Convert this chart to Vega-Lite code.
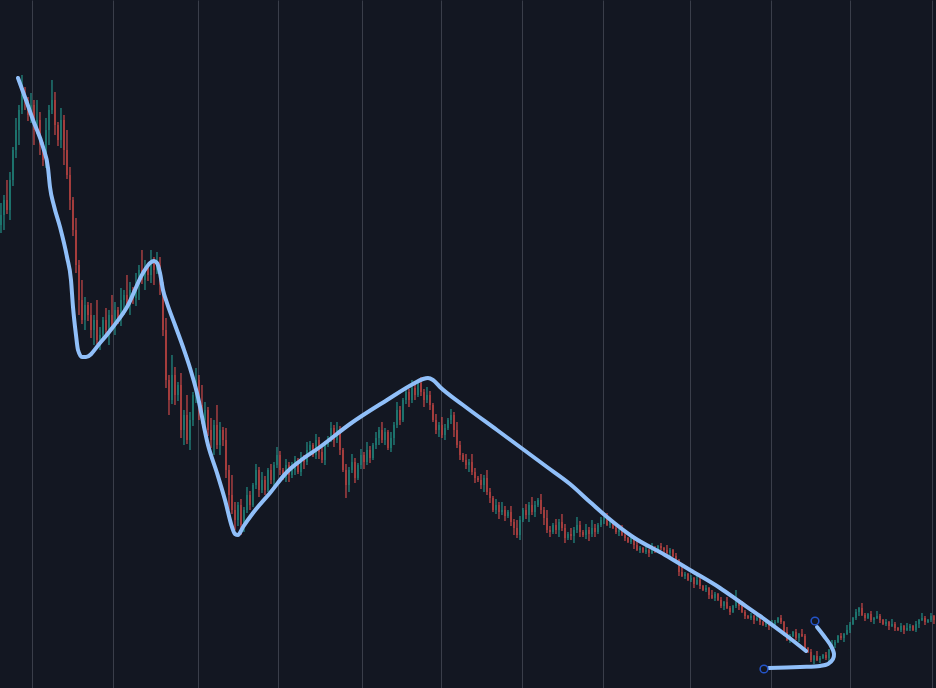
{
"$schema": "https://vega.github.io/schema/vega-lite/v6.json",
"width": 936, "height": 688,
"autosize": {"type": "none"},
"padding": 0,
"background": "#131722",
"config": {"view": {"stroke": null}, "scale": {"continuousPadding": 0}},
"datasets": {
"candles": [
{"i":0,"o":463,"c":473,"h":485,"l":455},{"i":1,"o":473,"c":488,"h":493,"l":458},{"i":2,"o":488,"c":478,"h":508,"l":474},{"i":3,"o":478,"c":508,"h":516,"l":468},{"i":4,"o":508,"c":538,"h":541,"l":502},
{"i":5,"o":538,"c":558,"h":570,"l":530},{"i":6,"o":558,"c":578,"h":583,"l":543},{"i":7,"o":578,"c":593,"h":613,"l":574},{"i":8,"o":593,"c":588,"h":601,"l":578},{"i":9,"o":588,"c":573,"h":591,"l":567},
{"i":10,"o":573,"c":583,"h":595,"l":565},{"i":11,"o":583,"c":558,"h":588,"l":543},{"i":12,"o":558,"c":568,"h":588,"l":554},{"i":13,"o":568,"c":543,"h":576,"l":533},{"i":14,"o":543,"c":528,"h":546,"l":522},
{"i":15,"o":528,"c":558,"h":570,"l":520},{"i":16,"o":558,"c":578,"h":583,"l":543},{"i":17,"o":578,"c":588,"h":608,"l":574},{"i":18,"o":588,"c":563,"h":596,"l":553},{"i":19,"o":563,"c":548,"h":566,"l":542},
{"i":20,"o":548,"c":568,"h":580,"l":540},{"i":21,"o":568,"c":538,"h":573,"l":523},{"i":22,"o":538,"c":513,"h":558,"l":509},{"i":23,"o":513,"c":488,"h":521,"l":478},{"i":24,"o":488,"c":458,"h":491,"l":452},
{"i":25,"o":458,"c":423,"h":470,"l":415},{"i":26,"o":423,"c":388,"h":428,"l":373},{"i":27,"o":388,"c":368,"h":408,"l":364},{"i":28,"o":368,"c":383,"h":391,"l":358},{"i":29,"o":383,"c":373,"h":386,"l":367},
{"i":30,"o":373,"c":358,"h":385,"l":350},{"i":31,"o":358,"c":368,"h":373,"l":343},{"i":32,"o":368,"c":348,"h":388,"l":344},{"i":33,"o":348,"c":353,"h":361,"l":338},{"i":34,"o":353,"c":368,"h":371,"l":347},
{"i":35,"o":368,"c":358,"h":380,"l":350},{"i":36,"o":358,"c":373,"h":378,"l":343},{"i":37,"o":373,"c":363,"h":393,"l":359},{"i":38,"o":363,"c":378,"h":386,"l":353},{"i":39,"o":378,"c":370,"h":381,"l":364},
{"i":40,"o":370,"c":388,"h":400,"l":362},{"i":41,"o":388,"c":393,"h":398,"l":373},{"i":42,"o":393,"c":383,"h":413,"l":379},{"i":43,"o":383,"c":398,"h":406,"l":373},{"i":44,"o":398,"c":390,"h":401,"l":384},
{"i":45,"o":390,"c":403,"h":415,"l":382},{"i":46,"o":403,"c":418,"h":423,"l":388},{"i":47,"o":418,"c":408,"h":438,"l":404},{"i":48,"o":408,"c":420,"h":428,"l":398},{"i":49,"o":420,"c":413,"h":423,"l":407},
{"i":50,"o":413,"c":426,"h":438,"l":405},{"i":51,"o":426,"c":418,"h":431,"l":403},{"i":52,"o":418,"c":423,"h":436,"l":414},{"i":53,"o":423,"c":403,"h":431,"l":393},{"i":54,"o":403,"c":358,"h":406,"l":352},
{"i":55,"o":358,"c":308,"h":370,"l":300},{"i":56,"o":308,"c":288,"h":313,"l":273},{"i":57,"o":288,"c":313,"h":333,"l":284},{"i":58,"o":313,"c":293,"h":321,"l":283},{"i":59,"o":293,"c":303,"h":306,"l":287},
{"i":60,"o":303,"c":258,"h":315,"l":250},{"i":61,"o":258,"c":273,"h":278,"l":243},{"i":62,"o":273,"c":248,"h":293,"l":244},{"i":63,"o":248,"c":268,"h":276,"l":238},{"i":64,"o":268,"c":293,"h":296,"l":262},
{"i":65,"o":293,"c":308,"h":320,"l":285},{"i":66,"o":308,"c":283,"h":313,"l":268},{"i":67,"o":283,"c":268,"h":303,"l":264},{"i":68,"o":268,"c":278,"h":286,"l":258},{"i":69,"o":278,"c":258,"h":281,"l":252},
{"i":70,"o":258,"c":248,"h":270,"l":240},{"i":71,"o":248,"c":263,"h":268,"l":233},{"i":72,"o":263,"c":243,"h":283,"l":239},{"i":73,"o":243,"c":258,"h":266,"l":233},{"i":74,"o":258,"c":248,"h":261,"l":242},
{"i":75,"o":248,"c":218,"h":260,"l":210},{"i":76,"o":218,"c":193,"h":223,"l":178},{"i":77,"o":193,"c":178,"h":213,"l":174},{"i":78,"o":178,"c":168,"h":186,"l":158},{"i":79,"o":168,"c":183,"h":186,"l":162},
{"i":80,"o":183,"c":163,"h":189,"l":153},{"i":81,"o":163,"c":178,"h":181,"l":156},{"i":82,"o":178,"c":193,"h":201,"l":175},{"i":83,"o":193,"c":183,"h":197,"l":178},{"i":84,"o":183,"c":203,"h":205,"l":181},
{"i":85,"o":203,"c":218,"h":224,"l":199},{"i":86,"o":218,"c":198,"h":221,"l":191},{"i":87,"o":198,"c":208,"h":216,"l":195},{"i":88,"o":208,"c":198,"h":212,"l":193},{"i":89,"o":198,"c":218,"h":220,"l":196},
{"i":90,"o":218,"c":208,"h":224,"l":204},{"i":91,"o":208,"c":223,"h":226,"l":201},{"i":92,"o":223,"c":233,"h":241,"l":220},{"i":93,"o":233,"c":218,"h":237,"l":213},{"i":94,"o":218,"c":210,"h":220,"l":208},
{"i":95,"o":210,"c":223,"h":229,"l":206},{"i":96,"o":223,"c":213,"h":226,"l":206},{"i":97,"o":213,"c":218,"h":226,"l":210},{"i":98,"o":218,"c":228,"h":232,"l":213},{"i":99,"o":228,"c":216,"h":230,"l":214},
{"i":100,"o":216,"c":230,"h":236,"l":212},{"i":101,"o":230,"c":226,"h":233,"l":219},{"i":102,"o":226,"c":238,"h":246,"l":223},{"i":103,"o":238,"c":243,"h":247,"l":233},{"i":104,"o":243,"c":233,"h":245,"l":231},
{"i":105,"o":233,"c":248,"h":254,"l":229},{"i":106,"o":248,"c":236,"h":251,"l":229},{"i":107,"o":236,"c":228,"h":244,"l":225},{"i":108,"o":228,"c":243,"h":247,"l":223},{"i":109,"o":243,"c":250,"h":252,"l":241},
{"i":110,"o":250,"c":260,"h":266,"l":246},{"i":111,"o":260,"c":248,"h":263,"l":241},{"i":112,"o":248,"c":258,"h":266,"l":245},{"i":113,"o":258,"c":238,"h":262,"l":233},{"i":114,"o":238,"c":218,"h":240,"l":216},
{"i":115,"o":218,"c":203,"h":224,"l":190},{"i":116,"o":203,"c":218,"h":221,"l":196},{"i":117,"o":218,"c":226,"h":234,"l":215},{"i":118,"o":226,"c":210,"h":230,"l":205},{"i":119,"o":210,"c":223,"h":225,"l":208},
{"i":120,"o":223,"c":233,"h":239,"l":219},{"i":121,"o":233,"c":226,"h":236,"l":219},{"i":122,"o":226,"c":238,"h":246,"l":223},{"i":123,"o":238,"c":230,"h":242,"l":225},{"i":124,"o":230,"c":243,"h":245,"l":228},
{"i":125,"o":243,"c":250,"h":256,"l":239},{"i":126,"o":250,"c":258,"h":261,"l":243},{"i":127,"o":258,"c":248,"h":266,"l":245},{"i":128,"o":248,"c":256,"h":260,"l":243},{"i":129,"o":256,"c":240,"h":258,"l":238},
{"i":130,"o":240,"c":250,"h":256,"l":236},{"i":131,"o":250,"c":263,"h":266,"l":243},{"i":132,"o":263,"c":278,"h":286,"l":260},{"i":133,"o":278,"c":268,"h":282,"l":263},{"i":134,"o":268,"c":288,"h":290,"l":266},
{"i":135,"o":288,"c":296,"h":302,"l":284},{"i":136,"o":296,"c":288,"h":299,"l":281},{"i":137,"o":288,"c":300,"h":308,"l":285},{"i":138,"o":300,"c":293,"h":304,"l":288},{"i":139,"o":293,"c":305,"h":307,"l":291},
{"i":140,"o":305,"c":296,"h":311,"l":292},{"i":141,"o":296,"c":288,"h":299,"l":281},{"i":142,"o":288,"c":293,"h":301,"l":285},{"i":143,"o":293,"c":283,"h":297,"l":278},{"i":144,"o":283,"c":268,"h":285,"l":266},
{"i":145,"o":268,"c":258,"h":274,"l":254},{"i":146,"o":258,"c":263,"h":266,"l":251},{"i":147,"o":263,"c":253,"h":271,"l":250},{"i":148,"o":253,"c":260,"h":264,"l":248},{"i":149,"o":260,"c":268,"h":270,"l":258},
{"i":150,"o":268,"c":273,"h":279,"l":264},{"i":151,"o":273,"c":258,"h":276,"l":251},{"i":152,"o":258,"c":243,"h":266,"l":240},{"i":153,"o":243,"c":233,"h":247,"l":228},{"i":154,"o":233,"c":228,"h":235,"l":226},
{"i":155,"o":228,"c":223,"h":234,"l":219},{"i":156,"o":223,"c":226,"h":229,"l":216},{"i":157,"o":226,"c":216,"h":234,"l":213},{"i":158,"o":216,"c":210,"h":220,"l":205},{"i":159,"o":210,"c":208,"h":212,"l":206},
{"i":160,"o":208,"c":203,"h":214,"l":199},{"i":161,"o":203,"c":210,"h":213,"l":196},{"i":162,"o":210,"c":196,"h":218,"l":193},{"i":163,"o":196,"c":190,"h":200,"l":185},{"i":164,"o":190,"c":178,"h":192,"l":176},
{"i":165,"o":178,"c":183,"h":189,"l":174},{"i":166,"o":183,"c":176,"h":186,"l":169},{"i":167,"o":176,"c":178,"h":186,"l":173},{"i":168,"o":178,"c":172,"h":182,"l":167},{"i":169,"o":172,"c":176,"h":178,"l":170},
{"i":170,"o":176,"c":166,"h":182,"l":162},{"i":171,"o":166,"c":160,"h":169,"l":153},{"i":172,"o":160,"c":153,"h":168,"l":150},{"i":173,"o":153,"c":168,"h":172,"l":148},{"i":174,"o":168,"c":178,"h":180,"l":166},
{"i":175,"o":178,"c":173,"h":184,"l":169},{"i":176,"o":173,"c":183,"h":186,"l":166},{"i":177,"o":183,"c":176,"h":191,"l":173},{"i":178,"o":176,"c":183,"h":187,"l":171},{"i":179,"o":183,"c":188,"h":190,"l":181},
{"i":180,"o":188,"c":178,"h":194,"l":174},{"i":181,"o":178,"c":170,"h":181,"l":163},{"i":182,"o":170,"c":158,"h":178,"l":155},{"i":183,"o":158,"c":156,"h":162,"l":151},{"i":184,"o":156,"c":163,"h":165,"l":154},
{"i":185,"o":163,"c":158,"h":169,"l":154},{"i":186,"o":158,"c":166,"h":169,"l":151},{"i":187,"o":166,"c":160,"h":174,"l":157},{"i":188,"o":160,"c":150,"h":164,"l":145},{"i":189,"o":150,"c":154,"h":156,"l":148},
{"i":190,"o":154,"c":152,"h":160,"l":148},{"i":191,"o":152,"c":158,"h":161,"l":145},{"i":192,"o":158,"c":163,"h":171,"l":155},{"i":193,"o":163,"c":156,"h":167,"l":151},{"i":194,"o":156,"c":153,"h":158,"l":151},
{"i":195,"o":153,"c":158,"h":164,"l":149},{"i":196,"o":158,"c":154,"h":161,"l":147},{"i":197,"o":154,"c":160,"h":168,"l":151},{"i":198,"o":160,"c":156,"h":164,"l":151},{"i":199,"o":156,"c":163,"h":165,"l":154},
{"i":200,"o":163,"c":168,"h":171,"l":161},{"i":201,"o":168,"c":170,"h":171,"l":164},{"i":202,"o":170,"c":163,"h":175,"l":162},{"i":203,"o":163,"c":166,"h":168,"l":160},{"i":204,"o":166,"c":160,"h":167,"l":159},
{"i":205,"o":160,"c":156,"h":163,"l":154},{"i":206,"o":156,"c":158,"h":159,"l":152},{"i":207,"o":158,"c":153,"h":163,"l":152},{"i":208,"o":153,"c":150,"h":155,"l":147},{"i":209,"o":150,"c":146,"h":151,"l":145},
{"i":210,"o":146,"c":150,"h":153,"l":144},{"i":211,"o":150,"c":143,"h":151,"l":139},{"i":212,"o":143,"c":138,"h":148,"l":137},{"i":213,"o":138,"c":140,"h":142,"l":135},{"i":214,"o":140,"c":136,"h":141,"l":135},
{"i":215,"o":136,"c":138,"h":141,"l":134},{"i":216,"o":138,"c":135,"h":139,"l":131},{"i":217,"o":135,"c":140,"h":145,"l":134},{"i":218,"o":140,"c":138,"h":142,"l":135},{"i":219,"o":138,"c":142,"h":143,"l":137},
{"i":220,"o":142,"c":140,"h":145,"l":138},{"i":221,"o":140,"c":138,"h":141,"l":134},{"i":222,"o":138,"c":135,"h":143,"l":134},{"i":223,"o":135,"c":138,"h":140,"l":132},{"i":224,"o":138,"c":132,"h":139,"l":131},
{"i":225,"o":132,"c":128,"h":135,"l":126},{"i":226,"o":128,"c":116,"h":129,"l":112},{"i":227,"o":116,"c":112,"h":121,"l":111},{"i":228,"o":112,"c":114,"h":116,"l":109},{"i":229,"o":114,"c":108,"h":115,"l":107},
{"i":230,"o":108,"c":110,"h":113,"l":106},{"i":231,"o":110,"c":104,"h":111,"l":100},{"i":232,"o":104,"c":108,"h":113,"l":103},{"i":233,"o":108,"c":102,"h":110,"l":99},{"i":234,"o":102,"c":98,"h":103,"l":97},
{"i":235,"o":98,"c":100,"h":103,"l":96},{"i":236,"o":100,"c":93,"h":101,"l":89},{"i":237,"o":93,"c":90,"h":98,"l":89},{"i":238,"o":90,"c":94,"h":96,"l":87},{"i":239,"o":94,"c":88,"h":95,"l":87},
{"i":240,"o":88,"c":82,"h":91,"l":80},{"i":241,"o":82,"c":86,"h":87,"l":78},{"i":242,"o":86,"c":80,"h":91,"l":79},{"i":243,"o":80,"c":76,"h":82,"l":73},{"i":244,"o":76,"c":82,"h":83,"l":75},
{"i":245,"o":82,"c":88,"h":98,"l":80},{"i":246,"o":88,"c":82,"h":89,"l":78},{"i":247,"o":82,"c":76,"h":87,"l":75},{"i":248,"o":76,"c":72,"h":78,"l":69},{"i":249,"o":72,"c":70,"h":73,"l":69},
{"i":250,"o":70,"c":72,"h":75,"l":68},{"i":251,"o":72,"c":68,"h":73,"l":64},{"i":252,"o":68,"c":70,"h":75,"l":67},{"i":253,"o":70,"c":66,"h":72,"l":63},{"i":254,"o":66,"c":63,"h":67,"l":62},
{"i":255,"o":63,"c":66,"h":69,"l":61},{"i":256,"o":66,"c":62,"h":67,"l":58},{"i":257,"o":62,"c":63,"h":68,"l":61},{"i":258,"o":63,"c":66,"h":68,"l":60},{"i":259,"o":66,"c":70,"h":71,"l":65},
{"i":260,"o":70,"c":66,"h":73,"l":64},{"i":261,"o":66,"c":56,"h":67,"l":52},{"i":262,"o":56,"c":48,"h":61,"l":47},{"i":263,"o":48,"c":52,"h":54,"l":45},{"i":264,"o":52,"c":56,"h":57,"l":51},
{"i":265,"o":56,"c":50,"h":59,"l":48},{"i":266,"o":50,"c":54,"h":55,"l":46},{"i":267,"o":54,"c":52,"h":59,"l":51},{"i":268,"o":52,"c":40,"h":54,"l":37},{"i":269,"o":40,"c":36,"h":41,"l":35},
{"i":270,"o":36,"c":28,"h":39,"l":26},{"i":271,"o":28,"c":32,"h":33,"l":24},{"i":272,"o":32,"c":28,"h":37,"l":27},{"i":273,"o":28,"c":30,"h":32,"l":25},{"i":274,"o":30,"c":33,"h":34,"l":29},
{"i":275,"o":33,"c":30,"h":36,"l":28},{"i":276,"o":30,"c":38,"h":39,"l":26},{"i":277,"o":38,"c":43,"h":48,"l":37},{"i":278,"o":43,"c":46,"h":48,"l":40},{"i":279,"o":46,"c":52,"h":53,"l":45},
{"i":280,"o":52,"c":50,"h":55,"l":48},{"i":281,"o":50,"c":54,"h":55,"l":46},{"i":282,"o":54,"c":58,"h":63,"l":53},{"i":283,"o":58,"c":64,"h":66,"l":55},{"i":284,"o":64,"c":70,"h":71,"l":63},
{"i":285,"o":70,"c":76,"h":79,"l":68},{"i":286,"o":76,"c":80,"h":81,"l":72},{"i":287,"o":80,"c":73,"h":85,"l":72},{"i":288,"o":73,"c":70,"h":75,"l":67},{"i":289,"o":70,"c":74,"h":75,"l":69},
{"i":290,"o":74,"c":68,"h":77,"l":66},{"i":291,"o":68,"c":70,"h":71,"l":64},{"i":292,"o":70,"c":72,"h":77,"l":69},{"i":293,"o":72,"c":68,"h":74,"l":65},{"i":294,"o":68,"c":64,"h":69,"l":63},
{"i":295,"o":64,"c":66,"h":69,"l":62},{"i":296,"o":66,"c":62,"h":67,"l":58},{"i":297,"o":62,"c":64,"h":69,"l":61},{"i":298,"o":64,"c":60,"h":66,"l":57},{"i":299,"o":60,"c":58,"h":61,"l":57},
{"i":300,"o":58,"c":62,"h":65,"l":56},{"i":301,"o":62,"c":58,"h":63,"l":54},{"i":302,"o":58,"c":60,"h":65,"l":57},{"i":303,"o":60,"c":62,"h":64,"l":57},{"i":304,"o":62,"c":58,"h":63,"l":57},
{"i":305,"o":58,"c":64,"h":67,"l":56},{"i":306,"o":64,"c":68,"h":69,"l":60},{"i":307,"o":68,"c":70,"h":75,"l":67},{"i":308,"o":70,"c":66,"h":72,"l":63},{"i":309,"o":66,"c":68,"h":69,"l":65},
{"i":310,"o":68,"c":72,"h":75,"l":66},{"i":311,"o":72,"c":68,"h":73,"l":64}
],
"stroke": [
{"k":1,"i":5.67,"p":610},{"k":2,"i":8.33,"p":588},{"k":3,"i":10.67,"p":568},{"k":4,"i":14,"p":541},{"k":5,"i":15.67,"p":520},
{"k":6,"i":16.33,"p":501},{"k":7,"i":17.67,"p":482},{"k":8,"i":19.67,"p":461},{"k":9,"i":22,"p":431},{"k":10,"i":23.33,"p":408},
{"k":11,"i":24,"p":381},{"k":12,"i":25,"p":353},{"k":13,"i":25.67,"p":338},{"k":14,"i":27,"p":331},{"k":15,"i":28.33,"p":331},
{"k":16,"i":33,"p":345},{"k":17,"i":37.33,"p":361},{"k":18,"i":42,"p":381},{"k":19,"i":47.33,"p":415},{"k":20,"i":49.67,"p":425},
{"k":21,"i":51,"p":427},{"k":22,"i":52,"p":425},{"k":23,"i":53,"p":415},{"k":24,"i":54,"p":398},{"k":25,"i":55.33,"p":385},
{"k":26,"i":58,"p":363},{"k":27,"i":60.67,"p":341},{"k":28,"i":63,"p":320},{"k":29,"i":65.33,"p":295},{"k":30,"i":69,"p":243},
{"k":31,"i":72,"p":215},{"k":32,"i":74.67,"p":188},{"k":33,"i":77,"p":161},{"k":34,"i":78,"p":154},{"k":35,"i":79,"p":153},
{"k":36,"i":80.67,"p":161},{"k":37,"i":84,"p":175},{"k":38,"i":89.67,"p":195},{"k":39,"i":95.33,"p":216},{"k":40,"i":99.67,"p":227},
{"k":41,"i":106.33,"p":241},{"k":42,"i":116.33,"p":264},{"k":43,"i":128.67,"p":288},{"k":44,"i":137.33,"p":304},{"k":45,"i":140.67,"p":309},
{"k":46,"i":142.33,"p":310},{"k":47,"i":144,"p":308},{"k":48,"i":146.33,"p":301},{"k":49,"i":154,"p":283},{"k":50,"i":165.33,"p":258},
{"k":51,"i":173,"p":241},{"k":52,"i":182,"p":221},{"k":53,"i":189.67,"p":204},{"k":54,"i":196.33,"p":186},{"k":55,"i":202,"p":171},
{"k":56,"i":210.67,"p":151},{"k":57,"i":221.33,"p":133},{"k":58,"i":229.67,"p":118},{"k":59,"i":239.67,"p":100},{"k":60,"i":246.33,"p":86},
{"k":61,"i":253,"p":72},{"k":62,"i":262,"p":52},{"k":63,"i":268.33,"p":37}
],
"hook": [
{"k":1,"i":256,"p":20},{"k":2,"i":266.33,"p":21},{"k":3,"i":273,"p":22},{"k":4,"i":275.67,"p":24},{"k":5,"i":277.33,"p":29},
{"k":6,"i":277.67,"p":34},{"k":7,"i":276.67,"p":42},{"k":8,"i":274.33,"p":52},{"k":9,"i":272,"p":61}
],
"anchors": [
{"i":254.33,"p":19},{"i":271.33,"p":67}
]
},
"layer": [
{
"data": {"name": "candles"},
"mark": {"type": "rule", "strokeWidth": 1},
"encoding": {
"x": {"field": "i", "type": "quantitative", "scale": {"domain": [-0.333, 311.667], "nice": false, "zero": false, "padding": 0},
 "axis": {"values": [10.33, 37.33, 65.67, 92.33, 120.33, 146.67, 173.67, 200.67, 229.67, 256.67, 283, 310.33], "grid": true, "gridColor": "#3a3e4a", "gridWidth": 1, "labels": false, "ticks": false, "domain": false, "title": null}},
"y": {"field": "l", "type": "quantitative", "scale": {"domain": [0, 688], "nice": false, "zero": false, "padding": 0}, "axis": null},
"y2": {"field": "h"},
"color": {"condition": {"test": "datum.c >= datum.o", "value": "#26a69a"}, "value": "#ef5350"}
}
},
{
"data": {"name": "candles"},
"mark": {"type": "bar", "width": 2, "opacity": 0.75},
"encoding": {
"x": {"field": "i", "type": "quantitative", "scale": {"domain": [-0.333, 311.667], "nice": false, "zero": false, "padding": 0},
 "axis": {"values": [10.33, 37.33, 65.67, 92.33, 120.33, 146.67, 173.67, 200.67, 229.67, 256.67, 283, 310.33], "grid": true, "gridColor": "#3a3e4a", "gridWidth": 1, "labels": false, "ticks": false, "domain": false, "title": null}},
"y": {"field": "o", "type": "quantitative", "scale": {"domain": [0, 688], "nice": false, "zero": false, "padding": 0}, "axis": null},
"y2": {"field": "c"},
"color": {"condition": {"test": "datum.c >= datum.o", "value": "#1d7a71"}, "value": "#b0403e"}
}
},
{
"data": {"name": "stroke"},
"mark": {"type": "line", "color": "#90bff9", "strokeWidth": 4, "interpolate": "monotone", "strokeCap": "round", "strokeJoin": "round"},
"encoding": {
"x": {"field": "i", "type": "quantitative", "scale": {"domain": [-0.333, 311.667], "nice": false, "zero": false, "padding": 0},
 "axis": {"values": [10.33, 37.33, 65.67, 92.33, 120.33, 146.67, 173.67, 200.67, 229.67, 256.67, 283, 310.33], "grid": true, "gridColor": "#3a3e4a", "gridWidth": 1, "labels": false, "ticks": false, "domain": false, "title": null}},
"y": {"field": "p", "type": "quantitative", "scale": {"domain": [0, 688], "nice": false, "zero": false, "padding": 0}, "axis": null},
"order": {"field": "k", "type": "quantitative"}
}
},
{
"data": {"name": "hook"},
"mark": {"type": "line", "color": "#90bff9", "strokeWidth": 4, "interpolate": "catmull-rom", "strokeCap": "round", "strokeJoin": "round"},
"encoding": {
"x": {"field": "i", "type": "quantitative", "scale": {"domain": [-0.333, 311.667], "nice": false, "zero": false, "padding": 0},
 "axis": {"values": [10.33, 37.33, 65.67, 92.33, 120.33, 146.67, 173.67, 200.67, 229.67, 256.67, 283, 310.33], "grid": true, "gridColor": "#3a3e4a", "gridWidth": 1, "labels": false, "ticks": false, "domain": false, "title": null}},
"y": {"field": "p", "type": "quantitative", "scale": {"domain": [0, 688], "nice": false, "zero": false, "padding": 0}, "axis": null},
"order": {"field": "k", "type": "quantitative"}
}
},
{
"data": {"name": "anchors"},
"mark": {"type": "point", "filled": false, "color": "#2454c8", "size": 60, "strokeWidth": 1.5, "opacity": 1},
"encoding": {
"x": {"field": "i", "type": "quantitative", "scale": {"domain": [-0.333, 311.667], "nice": false, "zero": false, "padding": 0},
 "axis": {"values": [10.33, 37.33, 65.67, 92.33, 120.33, 146.67, 173.67, 200.67, 229.67, 256.67, 283, 310.33], "grid": true, "gridColor": "#3a3e4a", "gridWidth": 1, "labels": false, "ticks": false, "domain": false, "title": null}},
"y": {"field": "p", "type": "quantitative", "scale": {"domain": [0, 688], "nice": false, "zero": false, "padding": 0}, "axis": null}
}
}
]
}
